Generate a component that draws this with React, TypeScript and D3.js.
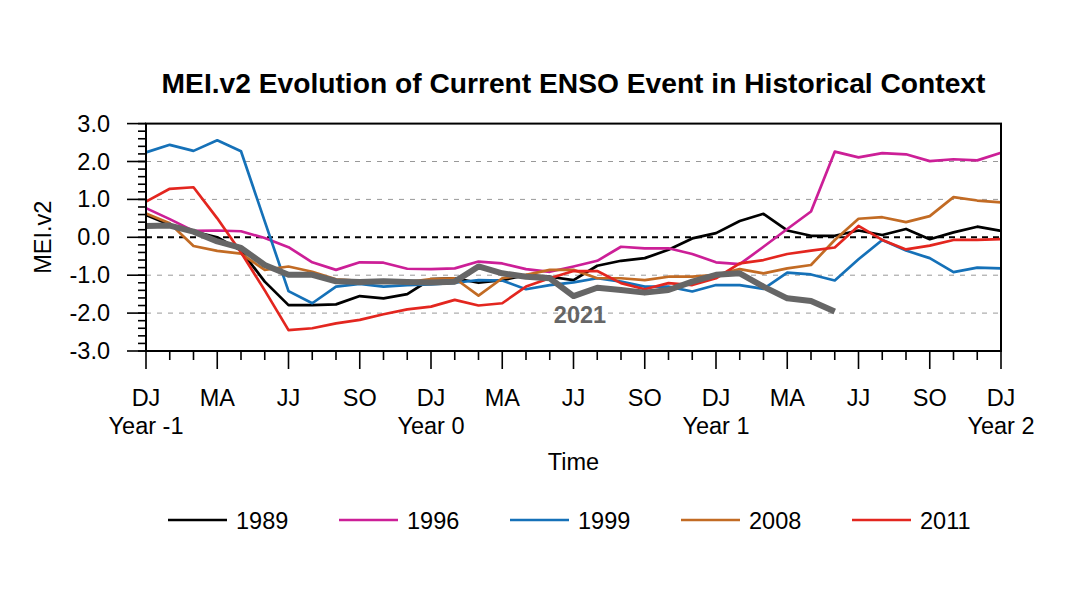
import React from 'react';
import * as d3 from 'd3';

// months since DJ of Year -1
const months = d3.range(0, 37);
const seasonLabels = ['DJ', 'MA', 'JJ', 'SO'];
const yearLabels = ['Year -1', 'Year 0', 'Year 1', 'Year 2'];
const yTicks = [3, 2, 1, 0, -1, -2, -3];

const years = ['1989', '1996', '1999', '2008', '2011'];
const colors = ['#000000', '#cc1f97', '#1571b8', '#c26b24', '#e3261f'];

const mei1989 = [0.59, 0.33, 0.15, 0.0, -0.35, -1.17, -1.79, -1.79, -1.77, -1.55, -1.61, -1.5, -1.1, -1.08, -1.2, -1.13, -1.0, -1.04, -1.13, -0.75, -0.62, -0.55, -0.33, -0.03, 0.11, 0.43, 0.62, 0.18, 0.04, 0.04, 0.18, 0.06, 0.22, -0.05, 0.13, 0.28, 0.17];
const mei1996 = [0.77, 0.48, 0.17, 0.18, 0.16, -0.02, -0.26, -0.66, -0.86, -0.66, -0.67, -0.83, -0.84, -0.82, -0.64, -0.69, -0.84, -0.91, -0.77, -0.62, -0.25, -0.29, -0.29, -0.44, -0.66, -0.71, -0.25, 0.22, 0.68, 2.26, 2.11, 2.22, 2.19, 2.01, 2.06, 2.03, 2.23];
const mei1999 = [2.24, 2.44, 2.28, 2.56, 2.27, 0.42, -1.42, -1.74, -1.3, -1.23, -1.3, -1.26, -1.24, -1.2, -1.13, -1.14, -1.37, -1.26, -1.19, -1.08, -1.17, -1.3, -1.3, -1.43, -1.26, -1.26, -1.36, -0.93, -0.98, -1.14, -0.58, -0.07, -0.35, -0.55, -0.92, -0.8, -0.82];
const mei2008 = [0.63, 0.37, -0.23, -0.36, -0.43, -0.86, -0.77, -0.91, -1.11, -1.15, -1.17, -1.18, -1.1, -1.08, -1.54, -1.08, -0.99, -0.86, -0.86, -1.08, -1.08, -1.13, -1.04, -1.04, -0.99, -0.84, -0.95, -0.82, -0.73, -0.07, 0.49, 0.53, 0.4, 0.56, 1.06, 0.97, 0.92];
const mei2011 = [0.94, 1.28, 1.32, 0.5, -0.4, -1.4, -2.45, -2.4, -2.27, -2.18, -2.03, -1.9, -1.83, -1.65, -1.8, -1.74, -1.3, -1.08, -0.89, -0.89, -1.21, -1.37, -1.21, -1.26, -1.08, -0.69, -0.6, -0.44, -0.35, -0.27, 0.3, -0.07, -0.32, -0.22, -0.07, -0.07, -0.05];
const mei2021 = [0.3, 0.31, 0.15, -0.11, -0.28, -0.73, -0.99, -0.99, -1.16, -1.18, -1.16, -1.18, -1.19, -1.17, -0.77, -0.95, -1.04, -1.08, -1.55, -1.33, -1.39, -1.46, -1.39, -1.17, -0.99, -0.95, -1.3, -1.61, -1.68, -1.96];

const series = [mei1989, mei1996, mei1999, mei2008, mei2011];

const W = 1070;
const H = 602;
const font = '"Liberation Sans", Arial, Helvetica, sans-serif';
const fs = 23.5;

const App: React.FC = () => {
  const x = d3.scaleLinear().domain([0, 36]).range([146, 1001]);
  const y = d3.scaleLinear().domain([-3, 3]).range([351, 123.6]);
  const line = d3.line<number>().x((_, i) => x(i)).y(d => y(d));
  const minorY = d3.range(-30, 31, 2).map(v => v / 10);
  const [x0, x1] = x.range();
  const [yb, yt] = y.range();

  return (
    <svg width={W} height={H} style={{ position: 'absolute', left: 0, top: 0, background: '#fff' }} fontFamily={font}>
      <text x={(x0 + x1) / 2} y={93} textAnchor="middle" fontSize={28.2} fontWeight="bold">
        MEI.v2 Evolution of Current ENSO Event in Historical Context
      </text>

      {/* grid */}
      {[2, 1, -1, -2].map(v => (
        <line key={v} x1={x0} x2={x1} y1={y(v)} y2={y(v)} stroke="#999" strokeWidth={1} strokeDasharray="5 6" />
      ))}
      <line x1={x0} x2={x1} y1={y(0)} y2={y(0)} stroke="#000" strokeWidth={2} strokeDasharray="6 5" />

      {/* series */}
      {series.map((s, k) => (
        <path key={years[k]} d={line(s) || ''} fill="none" stroke={colors[k]} strokeWidth={2.7} strokeLinejoin="round" />
      ))}
      <path d={line(mei2021) || ''} fill="none" stroke="#666" strokeWidth={6} strokeLinejoin="round" />
      <text x={580} y={323} textAnchor="middle" fontSize={23.5} fontWeight="bold" fill="#666">2021</text>

      {/* frame */}
      <rect x={x0} y={yt} width={x1 - x0} height={yb - yt} fill="none" stroke="#000" strokeWidth={2} />

      {/* y axis */}
      {minorY.map(v => (
        <line key={v} x1={x0 - 8} x2={x0} y1={y(v)} y2={y(v)} stroke="#000" strokeWidth={1.6} />
      ))}
      {yTicks.map(v => (
        <g key={v}>
          <line x1={x0 - 19} x2={x0} y1={y(v)} y2={y(v)} stroke="#000" strokeWidth={1.6} />
          <text x={110} y={y(v) + 8} textAnchor="end" fontSize={fs}>{v.toFixed(1)}</text>
        </g>
      ))}
      <text transform={`translate(51,${y(0)}) rotate(-90)`} textAnchor="middle" fontSize={fs}>MEI.v2</text>

      {/* x axis */}
      {months.map(m => (
        <line key={m} x1={x(m)} x2={x(m)} y1={yb} y2={yb + (m % 3 === 0 ? 18 : 9)} stroke="#000" strokeWidth={1.6} />
      ))}
      {months.filter(m => m % 3 === 0).map(m => (
        <text key={m} x={x(m)} y={406} textAnchor="middle" fontSize={fs}>{seasonLabels[(m / 3) % 4]}</text>
      ))}
      {yearLabels.map((t, k) => (
        <text key={t} x={x(k * 12)} y={434} textAnchor="middle" fontSize={fs}>{t}</text>
      ))}
      <text x={(x0 + x1) / 2} y={470} textAnchor="middle" fontSize={fs}>Time</text>

      {/* legend */}
      {years.map((yr, k) => (
        <g key={yr} transform={`translate(${168 + k * 171},520)`}>
          <line x1={0} x2={59} y1={0} y2={0} stroke={colors[k]} strokeWidth={2.7} />
          <text x={68} y={8.5} fontSize={fs}>{yr}</text>
        </g>
      ))}
    </svg>
  );
};

export default App;
